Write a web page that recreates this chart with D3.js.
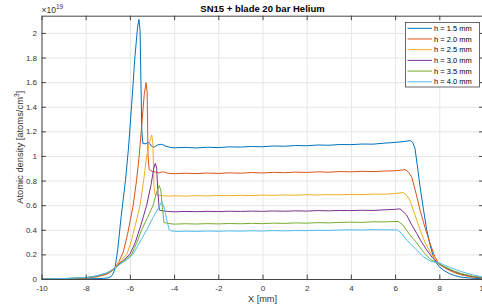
<!DOCTYPE html>
<html>
<head>
<meta charset="utf-8">
<script src="https://cdn.jsdelivr.net/npm/d3@7"></script>
<style>
  body { margin: 0; background: #fff; }
  svg { display: block; font-family: "Liberation Sans", Arial, sans-serif; }
</style>
</head>
<body>
<div id="chart"></div>
<script>
"use strict"

//-----------------------------DATA-----------------------------//
const seriesNames = ["h = 1.5 mm", "h = 2.0 mm", "h = 2.5 mm", "h = 3.0 mm", "h = 3.5 mm", "h = 4.0 mm"];
const xTicks = [-10, -8, -6, -4, -2, 0, 2, 4, 6, 8, 10];
const yTicks = [0, 0.2, 0.4, 0.6, 0.8, 1, 1.2, 1.4, 1.6, 1.8, 2];

// [x (mm), density (1e19 atoms/cm^3)]
const h15 = [[-10,0],[-9,0],[-8,0.001],[-7.5,0.003],[-7.2,0.005],[-7,0.008],[-6.85,0.02],[-6.75,0.045],[-6.67,0.09],
  [-6.55,0.24],[-6.4,0.5],[-6.2,0.8],[-6.07,1.05],[-5.92,1.42],[-5.77,1.81],[-5.65,2.05],[-5.59,2.11],[-5.54,2.02],
  [-5.5,1.6],[-5.46,1.2],[-5.41,1.1],[-5.28,1.1],[-5.14,1.11],[-5.02,1.08],[-4.92,1.07],[-4.74,1.09],[-4.56,1.095],
  [-4.38,1.08],[-4.18,1.07],[-4,1.066],[-3.5,1.07],[-3,1.065],[-2.5,1.071],[-2,1.068],[-1.5,1.074],[-1,1.072],
  [-0.5,1.077],[0,1.075],[0.5,1.081],[1,1.079],[1.5,1.085],[2,1.083],[2.5,1.089],[3,1.087],[3.5,1.093],[4,1.092],
  [4.5,1.097],[5,1.096],[5.5,1.104],[6,1.11],[6.4,1.117],[6.68,1.125],[6.8,1.11],[6.9,1.06],[7,0.93],[7.13,0.75],
  [7.28,0.57],[7.43,0.4],[7.58,0.28],[7.73,0.18],[7.87,0.13],[8,0.1],[8.2,0.07],[8.48,0.042],[8.7,0.028],[8.94,0.016],
  [9.3,0.009],[9.6,0.005],[10,0.002]];

const h20 = [[-10,0],[-9,0.002],[-8.5,0.004],[-8,0.007],[-7.5,0.017],[-7.05,0.038],[-6.85,0.06],[-6.67,0.09],[-6.5,0.14],
  [-6.3,0.22],[-6.1,0.37],[-5.85,0.6],[-5.7,0.8],[-5.58,1],[-5.45,1.28],[-5.35,1.5],[-5.27,1.595],[-5.22,1.52],
  [-5.18,1.0],[-5.13,0.89],[-5,0.875],[-4.85,0.87],[-4.7,0.862],[-4.5,0.872],[-4.3,0.86],[-4,0.856],[-3.5,0.86],
  [-3,0.857],[-2.5,0.861],[-2,0.858],[-1.5,0.863],[-1,0.86],[-0.5,0.865],[0,0.862],[0.5,0.867],[1,0.864],[1.5,0.869],
  [2,0.866],[2.5,0.871],[3,0.868],[3.5,0.873],[4,0.871],[4.5,0.875],[5,0.873],[5.5,0.877],[6,0.88],[6.3,0.885],
  [6.45,0.89],[6.6,0.87],[6.75,0.83],[6.9,0.73],[7.13,0.56],[7.35,0.42],[7.58,0.29],[7.8,0.18],[8,0.12],[8.3,0.085],
  [8.63,0.055],[9,0.033],[9.5,0.015],[10,0.007]];

const h25 = [[-10,0],[-9,0.002],[-8,0.009],[-7.5,0.02],[-7.05,0.042],[-6.85,0.063],[-6.67,0.09],[-6.5,0.13],[-6.3,0.17],
  [-6.14,0.2],[-5.95,0.3],[-5.75,0.44],[-5.54,0.6],[-5.38,0.8],[-5.24,1],[-5.1,1.12],[-5.01,1.17],[-4.96,1.1],
  [-4.91,0.75],[-4.86,0.685],[-4.7,0.68],[-4.5,0.676],[-4.2,0.674],[-4,0.676],[-3.5,0.674],[-3,0.677],[-2.5,0.675],
  [-2,0.679],[-1.5,0.677],[-1,0.68],[-0.5,0.678],[0,0.682],[0.5,0.68],[1,0.683],[1.5,0.681],[2,0.685],[2.5,0.683],
  [3,0.686],[3.5,0.684],[4,0.688],[4.5,0.686],[5,0.69],[5.5,0.689],[6,0.695],[6.37,0.703],[6.55,0.675],[6.67,0.64],
  [6.9,0.52],[7.13,0.4],[7.35,0.3],[7.58,0.22],[7.8,0.16],[8,0.12],[8.3,0.088],[8.63,0.06],[9,0.037],[9.5,0.018],[10,0.009]];

const h30 = [[-10,0],[-9,0.003],[-8,0.01],[-7.5,0.022],[-7.05,0.045],[-6.85,0.066],[-6.67,0.09],[-6.5,0.12],[-6.25,0.16],
  [-6,0.2],[-5.75,0.3],[-5.5,0.44],[-5.24,0.6],[-5.05,0.76],[-4.92,0.9],[-4.85,0.94],[-4.79,0.9],[-4.73,0.7],
  [-4.67,0.56],[-4.5,0.553],[-4.2,0.548],[-4,0.546],[-3.5,0.549],[-3,0.547],[-2.5,0.55],[-2,0.548],[-1.5,0.551],
  [-1,0.549],[-0.5,0.552],[0,0.55],[0.5,0.553],[1,0.551],[1.5,0.554],[2,0.552],[2.5,0.556],[3,0.554],[3.5,0.557],
  [4,0.556],[4.5,0.559],[5,0.557],[5.5,0.562],[6,0.566],[6.22,0.57],[6.35,0.55],[6.52,0.52],[6.75,0.44],[6.98,0.37],
  [7.2,0.3],[7.43,0.236],[7.7,0.17],[8,0.12],[8.3,0.09],[8.63,0.063],[9,0.04],[9.5,0.02],[10,0.01]];

const h35 = [[-10,0],[-9,0.003],[-8,0.011],[-7.5,0.024],[-7.05,0.047],[-6.85,0.068],[-6.67,0.09],[-6.4,0.13],[-6.15,0.165],
  [-5.92,0.2],[-5.7,0.29],[-5.47,0.4],[-5.2,0.5],[-4.95,0.6],[-4.8,0.7],[-4.67,0.76],[-4.6,0.72],[-4.53,0.58],
  [-4.46,0.46],[-4.3,0.452],[-4,0.446],[-3.5,0.449],[-3,0.447],[-2.5,0.45],[-2,0.448],[-1.5,0.451],[-1,0.449],
  [-0.5,0.452],[0,0.45],[0.5,0.454],[1,0.452],[1.5,0.456],[2,0.454],[2.5,0.458],[3,0.456],[3.5,0.46],[4,0.462],
  [4.5,0.46],[5,0.465],[5.5,0.464],[6.14,0.468],[6.35,0.44],[6.5,0.4],[6.67,0.358],[6.95,0.3],[7.28,0.22],[7.6,0.16],
  [8,0.12],[8.3,0.095],[8.63,0.067],[9,0.044],[9.5,0.024],[10,0.012]];

const h40 = [[-10,0],[-9,0.004],[-8,0.012],[-7.5,0.026],[-7.05,0.05],[-6.85,0.07],[-6.67,0.09],[-6.4,0.125],[-6.1,0.16],
  [-5.86,0.2],[-5.55,0.3],[-5.24,0.4],[-4.95,0.5],[-4.64,0.6],[-4.56,0.63],[-4.45,0.58],[-4.32,0.47],[-4.22,0.4],
  [-4.1,0.39],[-3.8,0.386],[-3.5,0.389],[-3,0.387],[-2.5,0.39],[-2,0.388],[-1.5,0.391],[-1,0.389],[-0.5,0.392],
  [0,0.39],[0.5,0.393],[1,0.391],[1.5,0.394],[2,0.393],[2.5,0.396],[3,0.395],[3.5,0.398],[4,0.4],[4.5,0.398],
  [5,0.401],[5.5,0.4],[6.1,0.399],[6.3,0.37],[6.52,0.317],[6.9,0.25],[7.28,0.18],[7.6,0.145],[8,0.13],[8.4,0.1],
  [8.79,0.073],[9,0.06],[9.5,0.035],[10,0.014]];

const seriesData = [h15, h20, h25, h30, h35, h40];
const colors = ["#0072BD", "#D95319", "#EDB120", "#7E2F8E", "#77AC30", "#4DBEEE"];

//-----------------------------SVG------------------------------//
const width = 482;
const height = 307;
const plot = { left: 41.5, right: 483.5, top: 15.7, bottom: 279 };
const axisColor = "#444";
const textColor = "#333";

const svg = d3.select("#chart").append("svg")
    .attr("width", width)
    .attr("height", height);

//----------------------------SCALES----------------------------//
const xScale = d3.scaleLinear().domain([-10, 10]).range([plot.left, plot.right]);
const yScale = d3.scaleLinear().domain([0, 2.14]).range([plot.bottom, plot.top]);

//-----------------------------GRID-----------------------------//
svg.append("g")
    .attr("transform", "translate(0," + plot.bottom + ")")
    .call(d3.axisBottom(xScale).tickValues(xTicks).tickSize(-(plot.bottom - plot.top)).tickFormat(""))
    .call(g => g.select(".domain").remove())
    .call(g => g.selectAll("line").attr("stroke", "#e6e6e6"));

svg.append("g")
    .attr("transform", "translate(" + plot.left + ",0)")
    .call(d3.axisLeft(yScale).tickValues(yTicks).tickSize(-(plot.right - plot.left)).tickFormat(""))
    .call(g => g.select(".domain").remove())
    .call(g => g.selectAll("line").attr("stroke", "#e6e6e6"));

//----------------------------LINES-----------------------------//
const line = d3.line()
    .x(d => xScale(d[0]))
    .y(d => yScale(d[1]));

svg.append("g")
    .selectAll("path")
    .data(seriesData)
    .join("path")
    .attr("fill", "none")
    .attr("stroke", (d, i) => colors[i])
    .attr("stroke-width", 1)
    .attr("stroke-linejoin", "round")
    .attr("d", line);

//-----------------------------AXES-----------------------------//
const tick = 4.4;
const styleAxis = g => {
    g.select(".domain").attr("stroke", axisColor);
    g.selectAll(".tick line").attr("stroke", axisColor);
    g.selectAll("text").attr("fill", textColor).style("font-size", "8px");
};

svg.append("g")
    .attr("transform", "translate(0," + plot.bottom + ")")
    .call(d3.axisBottom(xScale).tickValues(xTicks).tickSizeInner(-tick).tickSizeOuter(0)
        .tickPadding(6).tickFormat(d => String(d)))
    .call(styleAxis);

svg.append("g")
    .attr("transform", "translate(0," + plot.top + ")")
    .call(d3.axisTop(xScale).tickValues(xTicks).tickSizeInner(-tick).tickSizeOuter(0).tickFormat(""))
    .call(styleAxis);

svg.append("g")
    .attr("transform", "translate(" + plot.left + ",0)")
    .call(d3.axisLeft(yScale).tickValues(yTicks).tickSizeInner(-tick).tickSizeOuter(0)
        .tickPadding(4.5).tickFormat(d => String(d)))
    .call(styleAxis);

svg.append("g")
    .attr("transform", "translate(" + plot.right + ",0)")
    .call(d3.axisRight(yScale).tickValues(yTicks).tickSizeInner(-tick).tickSizeOuter(0).tickFormat(""))
    .call(styleAxis);

//----------------------------LABELS----------------------------//
svg.append("text")
    .attr("x", (plot.left + plot.right) / 2)
    .attr("y", 12)
    .attr("text-anchor", "middle")
    .attr("font-weight", "bold")
    .attr("font-size", "9.5px")
    .attr("fill", "#000")
    .text("SN15 + blade 20 bar Helium");

const expo = svg.append("text")
    .attr("x", 41.5)
    .attr("y", 13)
    .attr("font-size", "8.5px")
    .attr("fill", textColor);
expo.append("tspan").text("\u00d710");
expo.append("tspan").attr("dy", -4.5).attr("font-size", "6.5px").text("19");

svg.append("text")
    .attr("x", (plot.left + plot.right) / 2)
    .attr("y", 302)
    .attr("text-anchor", "middle")
    .attr("font-size", "9.2px")
    .attr("fill", textColor)
    .text("X [mm]");

const ylab = svg.append("text")
    .attr("transform", "translate(23," + ((plot.top + plot.bottom) / 2) + ") rotate(-90)")
    .attr("text-anchor", "middle")
    .attr("font-size", "9.4px")
    .attr("fill", textColor);
ylab.append("tspan").text("Atomic density [atoms/cm");
ylab.append("tspan").attr("dy", -4).attr("font-size", "6.5px").text("3");
ylab.append("tspan").attr("dy", 4).text("]");

//----------------------------LEGEND----------------------------//
const legend = { x: 405.5, y: 22.5, w: 74, h: 64.5, row: 10.7 };
const lg = svg.append("g");
lg.append("rect")
    .attr("x", legend.x)
    .attr("y", legend.y)
    .attr("width", legend.w)
    .attr("height", legend.h)
    .attr("fill", "#fff")
    .attr("stroke", axisColor)
    .attr("stroke-width", 0.8);

const rows = lg.selectAll("g.row")
    .data(seriesNames)
    .join("g")
    .attr("class", "row")
    .attr("transform", (d, i) => "translate(0," + (legend.y + 5.8 + i * legend.row) + ")");

rows.append("line")
    .attr("x1", 407.5)
    .attr("x2", 432)
    .attr("stroke", (d, i) => colors[i])
    .attr("stroke-width", 1);

rows.append("text")
    .attr("x", 434)
    .attr("dy", "0.35em")
    .attr("font-size", "7.5px")
    .attr("fill", "#000")
    .text(d => d);
</script>
</body>
</html>
